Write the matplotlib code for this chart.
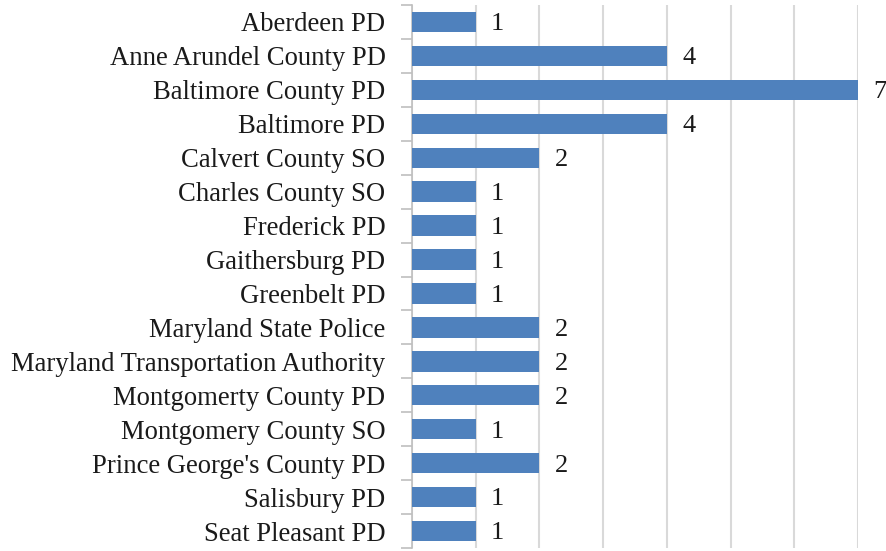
import matplotlib.pyplot as plt
import numpy as np

agencies = ["Aberdeen PD", "Anne Arundel County PD", "Baltimore County PD",
            "Baltimore PD", "Calvert County SO", "Charles County SO",
            "Frederick PD", "Gaithersburg PD", "Greenbelt PD",
            "Maryland State Police", "Maryland Transportation Authority",
            "Montgomerty County PD", "Montgomery County SO",
            "Prince George's County PD", "Salisbury PD", "Seat Pleasant PD"]
counts = [1, 4, 7, 4, 2, 1, 1, 1, 1, 2, 2, 2, 1, 2, 1, 1]

plt.rcParams['font.family'] = ['Liberation Serif', 'DejaVu Serif']

fig = plt.figure(figsize=(8.86, 5.51), dpi=100)
ax = fig.add_axes([412/886, 3/551, (858-412)/886, (548-5)/551])

y = np.arange(len(agencies))
ax.barh(y, counts, height=0.6, color='#4f81bd', zorder=3)
for yi, c in zip(y, counts):
    ax.text(c + 0.24, yi + 0.07, str(c), va='center', ha='left', fontsize=19, color='#1a1a1a')

ax.set_xlim(0, 7)
ax.set_ylim(len(agencies) - 0.5, -0.5)
ax.set_xticks(range(0, 8))
ax.set_xticklabels([])
ax.tick_params(axis='x', length=0)
ax.grid(axis='x', color='#d9d9d9', linewidth=1.5, zorder=0)

ax.set_yticks(y)
ax.set_yticklabels(agencies, fontsize=19.2, color='#1a1a1a')
ax.tick_params(axis='y', which='major', length=0, pad=19)
ax.set_yticks(np.arange(-0.5, len(agencies)), minor=True)
ax.tick_params(axis='y', which='minor', length=8, color='#bfbfbf', width=1.2)

for s in ['top', 'right', 'bottom']:
    ax.spines[s].set_visible(False)
ax.spines['left'].set_color('#bfbfbf')
ax.spines['left'].set_linewidth(1.2)

fig.savefig('out.png', dpi=100)
